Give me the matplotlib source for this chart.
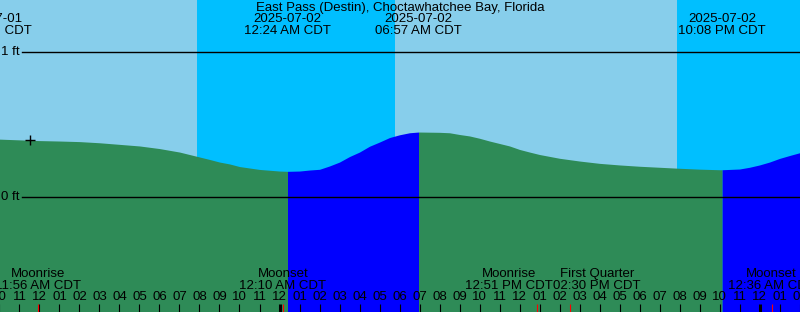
import numpy as np
from matplotlib import pyplot as plt

# hours counted from 2025-07-01 00:00 CDT
hours = [10, 11, 12, 13, 14, 15, 16, 17, 18, 19, 19.5, 20, 20.5, 21, 21.5, 22, 22.5, 23, 24,
         25, 25.5, 26, 26.5, 27, 27.5, 28, 28.5, 29, 29.5, 30, 30.5, 31, 32, 32.5, 33, 33.5,
         34, 34.5, 35, 35.5, 36, 36.5, 37, 38, 39, 40, 41, 42, 43, 44, 45, 46, 47, 47.5,
         48, 48.5, 49, 49.5, 50]
heights = [0.399, 0.394, 0.389, 0.386, 0.382, 0.374, 0.363, 0.352, 0.334, 0.310, 0.293,
           0.276, 0.259, 0.241, 0.228, 0.210, 0.200, 0.190, 0.179,
           0.179, 0.186, 0.191, 0.214, 0.241, 0.279, 0.310, 0.350, 0.379, 0.410, 0.429,
           0.443, 0.448, 0.446, 0.443, 0.431, 0.421,
           0.405, 0.386, 0.369, 0.352, 0.328, 0.310, 0.293, 0.267, 0.248, 0.232, 0.221,
           0.212, 0.205, 0.198, 0.192, 0.188, 0.193, 0.205,
           0.221, 0.241, 0.266, 0.286, 0.305]

tide_times = [9.42, 24.40, 30.95, 46.133]
tide_heights = [0.400, 0.177, 0.448, 0.188]
tide_kinds = ['High', 'Low', 'High', 'Low']
tide_dates = ['2025-07-01', '2025-07-02', '2025-07-02', '2025-07-02']
tide_labels = ['09:25 AM CDT', '12:24 AM CDT', '06:57 AM CDT', '10:08 PM CDT']

night_start = [19.875, 43.875]
night_end = [29.775, 53.0]

moon_times = [11.933, 24.167, 36.85, 38.5, 48.6]
moon_names = ['Moonrise', 'Moonset', 'Moonrise', 'First Quarter', 'Moonset']
moon_labels = ['11:56 AM CDT', '12:10 AM CDT', '12:51 PM CDT', '02:30 PM CDT', '12:36 AM CDT']

now_time = 11.54
now_height = 0.39

title = 'East Pass (Destin), Choctawhatchee Bay, Florida'

# layout (pixels)
W, H = 800, 312
PX_HOUR = 20
T0 = 10.025
Y0 = 197      # pixel row of 0 ft
PX_FT = 145

DAY = '#87CEEB'
NIGHT = '#00BFFF'
FALL = '#2E8B57'
RISE = '#0000FF'


def yft(py):
    return (Y0 - py) / PX_FT


def xh(px):
    return T0 + px / PX_HOUR


plt.rcParams['font.family'] = ['Liberation Sans', 'DejaVu Sans']
fs = 9.5

fig = plt.figure(figsize=(W / 100, H / 100), dpi=100)
ax = fig.add_axes([0, 0, 1, 1])
x0, x1 = xh(0), xh(W)
ybot, ytop = yft(H), yft(0)
ax.set_xlim(x0, x1)
ax.set_ylim(ybot, ytop)
ax.axis('off')

ax.axvspan(x0, x1, color=DAY, lw=0)
for s, e in zip(night_start, night_end):
    ax.axvspan(s, e, color=NIGHT, lw=0)

# tide fill, coloured by rising / falling
t_all = np.array(hours + tide_times, dtype=float)
h_all = np.array(heights + tide_heights, dtype=float)
order = np.argsort(t_all)
t_all, h_all = t_all[order], h_all[order]
bounds = tide_times + [x1 + 1]
for i in range(len(tide_times)):
    a, b = bounds[i], bounds[i + 1]
    m = (t_all >= a) & (t_all <= b)
    col = FALL if tide_kinds[i] == 'High' else RISE
    ax.fill_between(t_all[m], h_all[m], ybot, color=col, lw=0)

# datum lines
for v, lab in [(1, '1 ft'), (0, '0 ft')]:
    ax.plot([xh(22), x1], [v, v], color='black', lw=1)
    ax.text(xh(20), v, lab, ha='right', va='center', fontsize=fs)

ax.plot([now_time], [now_height], marker='+', color='black', ms=7, mew=1)

ax.text(xh(W / 2), yft(8), title, ha='center', va='center', fontsize=fs)
for t, d, lab in zip(tide_times, tide_dates, tide_labels):
    ax.text(t, yft(19.5), d, ha='center', va='center', fontsize=fs)
    ax.text(t, yft(31), lab, ha='center', va='center', fontsize=fs)

# hour ticks and labels
for hr in range(int(np.floor(x0)), int(np.ceil(x1)) + 1):
    lab = '%02d' % ((hr - 1) % 12 + 1)
    ax.text(hr, yft(296.5), lab, ha='center', va='center', fontsize=fs)
    lw = 2.2 if hr % 24 == 0 else 0.8
    ax.plot([hr, hr], [yft(304), ybot], color='black', lw=lw, solid_capstyle='butt')

# moon events; labels pushed apart where they would overlap
pairs = []
for t, n, lab in zip(moon_times, moon_names, moon_labels):
    ax.plot([t, t], [yft(304), ybot], color='red', lw=0.8, solid_capstyle='butt')
    a = ax.text(t, yft(274), n, ha='center', va='center', fontsize=fs)
    b = ax.text(t, yft(286), lab, ha='center', va='center', fontsize=fs)
    pairs.append((a, b))

fig.canvas.draw()
r = fig.canvas.get_renderer()
widths = [max(a.get_window_extent(r).width, b.get_window_extent(r).width) / PX_HOUR
          for a, b in pairs]
centers = list(moon_times)
for i in range(len(centers) - 1):
    need = (widths[i] + widths[i + 1]) / 2
    gap = centers[i + 1] - centers[i]
    if gap < need:
        centers[i] -= (need - gap) / 2
        centers[i + 1] += (need - gap) / 2
for c, (a, b) in zip(centers, pairs):
    a.set_x(c)
    b.set_x(c)

fig.savefig('out.png', dpi=100)
